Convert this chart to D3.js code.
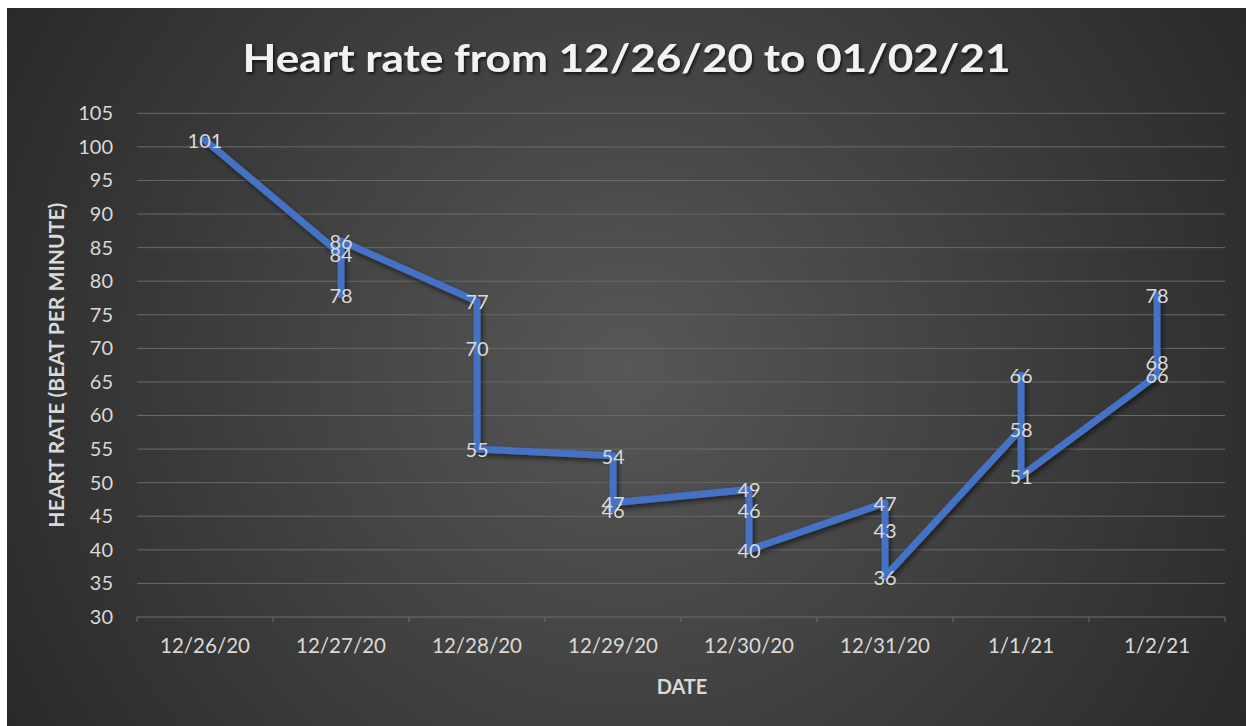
<!DOCTYPE html>
<html>
<head>
<meta charset="utf-8">
<script src="https://cdn.jsdelivr.net/npm/d3@7"></script>
<style>
  html, body { margin: 0; padding: 0; background: #ffffff; }
  svg { display: block; }
</style>
</head>
<body>
<svg id="chart" width="1246" height="726"></svg>
<script>
// ---- data ----
const categories = ["12/26/20", "12/27/20", "12/28/20", "12/29/20", "12/30/20", "12/31/20", "1/1/21", "1/2/21"];
const pointDates = ["12/26/20",
  "12/27/20", "12/27/20", "12/27/20",
  "12/28/20", "12/28/20", "12/28/20",
  "12/29/20", "12/29/20", "12/29/20",
  "12/30/20", "12/30/20", "12/30/20",
  "12/31/20", "12/31/20", "12/31/20",
  "1/1/21", "1/1/21", "1/1/21",
  "1/2/21", "1/2/21", "1/2/21"];
const pointValues = [101,
  84, 78, 86,
  77, 70, 55,
  54, 46, 47,
  49, 46, 40,
  47, 43, 36,
  58, 66, 51,
  66, 68, 78];
const yTickValues = [30, 35, 40, 45, 50, 55, 60, 65, 70, 75, 80, 85, 90, 95, 100, 105];
const titleText = "Heart rate from 12/26/20 to 01/02/21";
const xAxisTitle = "DATE";
const yAxisTitle = "HEART RATE (BEAT PER MINUTE)";

// ---- layout ----
const W = 1246, H = 726;
const area = {x: 7, y: 8, w: W - 7, h: H - 8};
const plot = {left: 137, right: 1225, top: 113.3, bottom: 617};
const FONT = "Lato, 'Open Sans', 'Noto Sans', sans-serif";
const TXT = "#d9d9d9";

const svg = d3.select("#chart");
const defs = svg.append("defs");

const rg = defs.append("radialGradient").attr("id", "bg")
  .attr("gradientUnits", "userSpaceOnUse")
  .attr("cx", area.x + area.w / 2).attr("cy", area.y + area.h / 2)
  .attr("r", area.w * 0.62);
rg.append("stop").attr("offset", "0%").attr("stop-color", "#575757");
rg.append("stop").attr("offset", "100%").attr("stop-color", "#262626");

const sh = defs.append("filter").attr("id", "shadow")
  .attr("x", "-10%").attr("y", "-10%").attr("width", "120%").attr("height", "130%");
sh.append("feDropShadow").attr("dx", 2).attr("dy", 3).attr("stdDeviation", 2.5)
  .attr("flood-color", "#000").attr("flood-opacity", 0.55);

const tsh = defs.append("filter").attr("id", "tshadow")
  .attr("x", "-5%").attr("y", "-30%").attr("width", "110%").attr("height", "160%");
tsh.append("feDropShadow").attr("dx", 1.5).attr("dy", 2).attr("stdDeviation", 1.5)
  .attr("flood-color", "#000").attr("flood-opacity", 0.7);

svg.append("rect").attr("x", area.x).attr("y", area.y)
  .attr("width", area.w).attr("height", area.h).attr("fill", "url(#bg)");

// ---- scales ----
const x = d3.scaleBand().domain(categories).range([plot.left, plot.right]).padding(0);
const y = d3.scaleLinear().domain([30, 105]).range([plot.bottom, plot.top]);
const cx = d => x(d) + x.bandwidth() / 2;

// ---- gridlines ----
svg.append("g").selectAll("line").data(yTickValues.filter(v => v > 30)).join("line")
  .attr("x1", plot.left).attr("x2", plot.right)
  .attr("y1", d => y(d)).attr("y2", d => y(d))
  .attr("stroke", "#6a6a6a").attr("stroke-width", 1);

// ---- y axis labels ----
const yAxis = d3.axisLeft(y).tickValues(yTickValues).tickSize(0).tickPadding(0);
const gy = svg.append("g").attr("transform", `translate(${plot.left - 24},0)`).call(yAxis);
gy.select(".domain").remove();
gy.selectAll("text").attr("fill", TXT).attr("font-family", FONT).attr("font-size", 20);

// ---- x axis ----
const gx = svg.append("g").attr("transform", `translate(0,${plot.bottom})`)
  .call(d3.axisBottom(x).tickSize(0).tickPadding(21));
gx.select(".domain").remove();
gx.selectAll("text").attr("fill", TXT).attr("font-family", FONT).attr("font-size", 20.5);
svg.append("line").attr("x1", plot.left).attr("x2", plot.right)
  .attr("y1", plot.bottom).attr("y2", plot.bottom)
  .attr("stroke", "#6e6e6e").attr("stroke-width", 1);
const tickPos = categories.map(c => x(c)).concat([plot.right]);
svg.append("g").selectAll("line").data(tickPos).join("line")
  .attr("x1", d => d).attr("x2", d => d)
  .attr("y1", plot.bottom).attr("y2", plot.bottom + 5)
  .attr("stroke", "#6e6e6e").attr("stroke-width", 1);

// ---- line ----
const pts = pointValues.map((v, i) => ({date: pointDates[i], value: v}));
const line = d3.line().x(d => cx(d.date)).y(d => y(d.value));
svg.append("path").datum(pts).attr("d", line)
  .attr("fill", "none").attr("stroke", "#4472c4").attr("stroke-width", 7)
  .attr("stroke-linejoin", "round").attr("stroke-linecap", "round")
  .attr("filter", "url(#shadow)");

// ---- data labels ----
svg.append("g").selectAll("text").data(pts).join("text")
  .attr("x", d => cx(d.date)).attr("y", d => y(d.value))
  .attr("text-anchor", "middle").attr("dominant-baseline", "central")
  .attr("fill", TXT).attr("font-family", FONT).attr("font-size", 20)
  .text(d => d.value);

// ---- titles ----
svg.append("text").attr("x", area.x + area.w / 2).attr("y", 57)
  .attr("text-anchor", "middle").attr("dominant-baseline", "central")
  .attr("fill", "#f2f2f2").attr("font-family", FONT).attr("font-weight", "bold")
  .attr("font-size", 39).attr("textLength", 768).attr("lengthAdjust", "spacingAndGlyphs")
  .attr("filter", "url(#tshadow)")
  .text(titleText);

svg.append("text").attr("x", 682).attr("y", 686)
  .attr("text-anchor", "middle").attr("dominant-baseline", "central")
  .attr("fill", TXT).attr("font-family", FONT).attr("font-weight", "bold")
  .attr("font-size", 20).text(xAxisTitle);

svg.append("text")
  .attr("transform", `translate(56,${(plot.top + plot.bottom) / 2}) rotate(-90)`)
  .attr("text-anchor", "middle").attr("dominant-baseline", "central")
  .attr("fill", TXT).attr("font-family", FONT).attr("font-weight", "bold")
  .attr("font-size", 20).attr("textLength", 325).attr("lengthAdjust", "spacingAndGlyphs")
  .text(yAxisTitle);
</script>
</body>
</html>
